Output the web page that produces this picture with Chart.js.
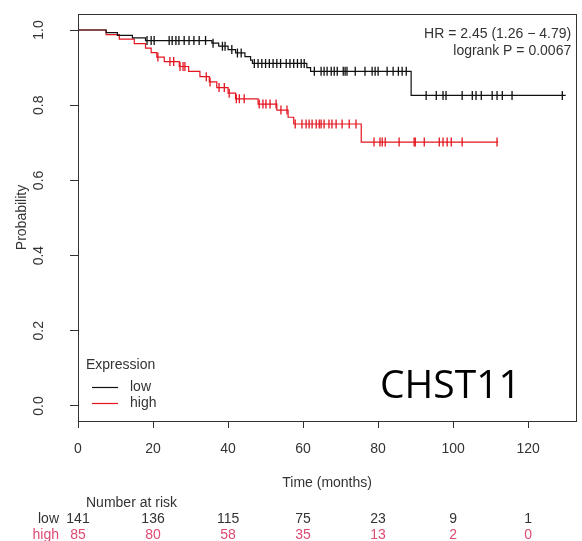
<!DOCTYPE html>
<html>
<head>
<meta charset="utf-8">
<script src="https://cdn.jsdelivr.net/npm/chart.js@4/dist/chart.umd.min.js"></script>
<style>
html,body{margin:0;padding:0;background:#fff;}
#wrap{position:relative;width:582px;height:541px;}
</style>
</head>
<body>
<div id="wrap"><canvas id="c" width="582" height="541"></canvas></div>
<script>
// ---- data ----
const lowTimes  = [0, 7.5, 10.5, 14.5, 18, 35.7, 37.5, 40, 42, 44.5, 46, 46.5, 61, 62, 88.8, 130];
const lowSurv   = [1, 0.993, 0.986, 0.979, 0.972, 0.965, 0.957, 0.948, 0.939, 0.929, 0.920, 0.911, 0.900, 0.890, 0.826, 0.826];
const highTimes = [0, 7.5, 11, 15, 18, 19.5, 21, 23, 27, 29.5, 32.5, 35, 37, 40, 42, 48, 53, 56, 57.5, 75.5, 112];
const highSurv  = [1, 0.988, 0.976, 0.964, 0.952, 0.940, 0.928, 0.916, 0.903, 0.890, 0.876, 0.862, 0.847, 0.832, 0.817, 0.803, 0.787, 0.768, 0.750, 0.702, 0.702];
const lowCensor = [18.4, 19.5, 20.3, 24.3, 25.1, 26.1, 26.9, 28.3, 29.6, 30.9, 32.3, 34.0, 36.0, 38.5, 39.2, 41.0, 42.5, 43.5,
  47.0, 48.0, 49.0, 50.0, 51.0, 52.0, 53.0, 54.0, 55.5, 56.5, 57.5, 58.5, 59.5, 60.3, 63.0, 64.8, 65.6, 66.4, 67.5, 68.3,
  69.1, 70.7, 71.2, 71.7, 73.9, 76.5, 78.4, 79.2, 80.0, 82.4, 84.0, 85.4, 86.4, 87.5,
  92.8, 95.5, 97.3, 98.1, 102.4, 105.1, 106.1, 107.5, 110.4, 111.7, 113.1, 115.7, 129.1];
const highCensor = [21.3, 24.5, 25.5, 27.2, 28.0, 28.5, 34.2, 35.2, 37.6, 39.0, 40.3, 42.2, 43.0, 44.3, 48.3, 49.3, 50.1,
  51.2, 52.8, 54.1, 55.7, 57.9, 59.7, 60.8, 61.6, 62.4, 63.5, 64.3, 64.8, 65.6, 66.9, 67.7, 68.8, 70.4, 72.3, 74.1,
  78.9, 80.5, 81.1, 81.9, 85.6, 89.6, 89.9, 92.3, 96.3, 97.3, 98.4, 99.5, 102.4, 111.7];
const groups = ['low', 'high'];
const riskTimes = [0, 20, 40, 60, 80, 100, 120];
const riskLow   = [141, 136, 115, 75, 23, 9, 1];
const riskHigh  = [85, 80, 58, 35, 13, 2, 0];
const hrLines = ['HR = 2.45 (1.26 \u2212 4.79)', 'logrank P = 0.0067'];
const geneLabel = 'CHST11';

// ---- helpers ----
function survAt(times, surv, t) {
  let v = surv[0];
  for (let i = 0; i < times.length; i++) { if (times[i] <= t) v = surv[i]; }
  return v;
}
const FONT = "'Liberation Sans', Arial, Helvetica, sans-serif";
const BLACK = '#111111';
const RED = '#e3141f';
const TEXT = '#333333';

const overlay = {
  id: 'overlay',
  afterDraw(chart) {
    const ctx = chart.ctx;
    const a = chart.chartArea;
    const xs = chart.scales.x;
    ctx.save();
    // box
    ctx.strokeStyle = '#333';
    ctx.lineWidth = 1;
    ctx.strokeRect(Math.round(a.left) + 0.5, Math.round(a.top) + 0.5, Math.round(a.right - a.left), Math.round(a.bottom - a.top));
    // HR text
    ctx.fillStyle = TEXT;
    ctx.font = '14px ' + FONT;
    ctx.textAlign = 'right';
    ctx.textBaseline = 'middle';
    ctx.fillText(hrLines[0], a.right - 5, 34);
    ctx.fillText(hrLines[1], a.right - 5, 51);
    // gene label
    ctx.fillStyle = '#000';
    ctx.font = "39px 'Open Sans', sans-serif";
    ctx.textAlign = 'left';
    ctx.textBaseline = 'alphabetic';
    ctx.fillText(geneLabel, 380, 398);
    // legend
    ctx.font = '14px ' + FONT;
    ctx.fillStyle = TEXT;
    ctx.textBaseline = 'middle';
    ctx.fillText('Expression', 86, 365);
    const ds = chart.data.datasets;
    [0, 1].forEach((k, i) => {
      const y = 387 + i * 16;
      ctx.strokeStyle = ds[k].borderColor;
      ctx.lineWidth = 1.2;
      ctx.beginPath(); ctx.moveTo(92, y + 0.5); ctx.lineTo(118, y + 0.5); ctx.stroke();
      ctx.fillStyle = TEXT;
      ctx.fillText(ds[k].label, 130, y);
    });
    // number at risk table
    ctx.fillStyle = TEXT;
    ctx.textAlign = 'left';
    ctx.fillText('Number at risk', 86, 503);
    const rows = [riskLow, riskHigh];
    const rowColors = [TEXT, '#dd4a72'];
    rows.forEach((row, r) => {
      const y = 519 + r * 16;
      ctx.fillStyle = rowColors[r];
      ctx.textAlign = 'right';
      ctx.fillText(groups[r], 59, y);
      ctx.textAlign = 'center';
      row.forEach((n, i) => {
        ctx.fillText(String(n), xs.getPixelForValue(riskTimes[i]), y);
      });
    });
    ctx.restore();
  }
};

new Chart(document.getElementById('c'), {
  type: 'scatter',
  data: {
    datasets: [
      { type: 'line', label: groups[0], data: lowTimes.map((t, i) => ({ x: t, y: lowSurv[i] })),
        stepped: 'before', borderColor: BLACK, borderWidth: 1.2, pointRadius: 0, fill: false },
      { type: 'line', label: groups[1], data: highTimes.map((t, i) => ({ x: t, y: highSurv[i] })),
        stepped: 'before', borderColor: RED, borderWidth: 1.2, pointRadius: 0, fill: false },
      { label: 'low censored', data: lowCensor.map(t => ({ x: t, y: survAt(lowTimes, lowSurv, t) })),
        pointStyle: 'line', rotation: 90, pointRadius: 4.5, borderColor: BLACK, borderWidth: 1.3, backgroundColor: BLACK },
      { label: 'high censored', data: highCensor.map(t => ({ x: t, y: survAt(highTimes, highSurv, t) })),
        pointStyle: 'line', rotation: 90, pointRadius: 4.5, borderColor: RED, borderWidth: 1.3, backgroundColor: RED }
    ]
  },
  options: {
    responsive: false,
    animation: false,
    devicePixelRatio: 1,
    layout: { padding: { left: 0, top: 14, right: 3, bottom: 0 } },
    plugins: { legend: { display: false }, tooltip: { enabled: false } },
    scales: {
      x: {
        type: 'linear', position: 'bottom', min: 0, max: 132.8,
        border: { display: false },
        grid: { display: true, drawOnChartArea: false, drawTicks: true, tickLength: 7, color: '#333', lineWidth: 1 },
        ticks: { stepSize: 20, includeBounds: false, autoSkip: false, maxRotation: 0, padding: 13,
                 color: TEXT, font: { family: FONT, size: 14 } },
        title: { display: true, text: 'Time (months)', color: TEXT, font: { family: FONT, size: 14 },
                 padding: { top: 0, bottom: 49 } },
        afterFit(s) { s.height = 120; s.paddingLeft = 0; s.paddingRight = 0; }
      },
      y: {
        type: 'linear', position: 'left', min: -0.04, max: 1.0426,
        border: { display: false },
        grid: { display: true, drawOnChartArea: false, drawTicks: true, tickLength: 8, color: '#333', lineWidth: 1 },
        ticks: { stepSize: 0.2, includeBounds: false, autoSkip: false, minRotation: 90, maxRotation: 90,
                 crossAlign: 'center', padding: 21, color: TEXT, font: { family: FONT, size: 14 },
                 callback: v => Number(v).toFixed(1) },
        title: { display: true, text: 'Probability', color: TEXT, font: { family: FONT, size: 14 },
                 padding: { top: 14, bottom: 0 } },
        afterFit(s) { s.width = 78; s.paddingTop = 0; s.paddingBottom = 0; }
      }
    }
  },
  plugins: [overlay]
});
</script>
</body>
</html>
